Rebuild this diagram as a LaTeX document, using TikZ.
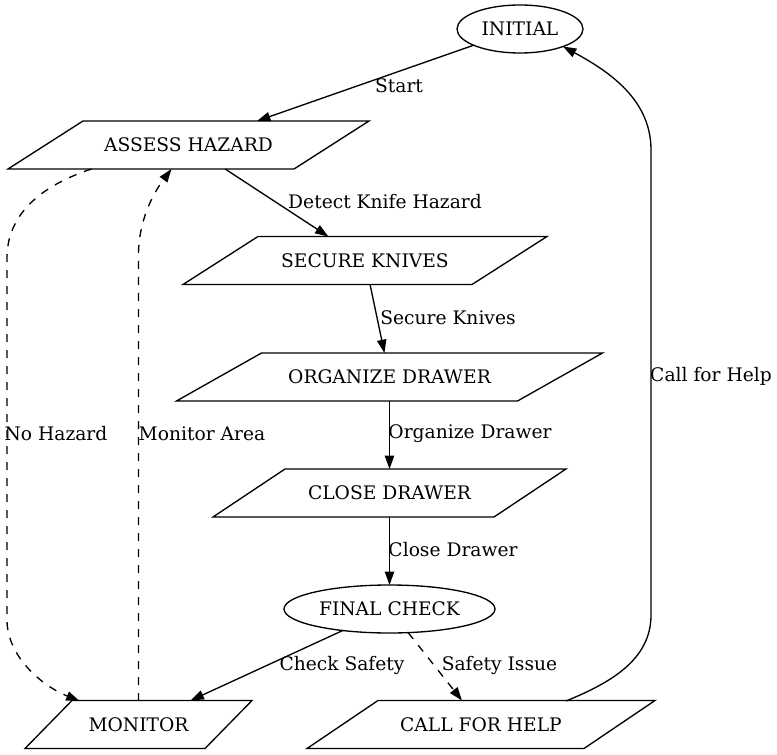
\documentclass[tikz,border=0pt]{standalone}
\usepackage{fontspec}
\setmainfont{DejaVu Serif}
\usetikzlibrary{shapes.geometric,arrows.meta,calc}
\newcommand\drawpara[2]{\draw[line width=1pt] (#1.south west) -- ($(#1.north west)+(#2,0)$)
  -- (#1.north east) -- ($(#1.south east)+(-#2,0)$) -- cycle;}
\begin{document}
\begin{tikzpicture}[x=0.75pt,y=-0.75pt,
  every node/.style={font=\fontsize{14pt}{16pt}\selectfont},
  para/.style={rectangle, minimum width=#1, minimum height=36pt,
    inner sep=0pt, outer sep=0pt},
  oval/.style={ellipse, draw, line width=1pt, minimum height=36pt,
    inner sep=0pt, outer sep=0pt},
  conn/.style={-{Triangle[length=10pt,width=7pt]}, line width=1pt},
  dconn/.style={conn, dash pattern=on 6pt off 6pt},
  lbl/.style={inner sep=0pt, anchor=center}]
\useasboundingbox (0,0) rectangle (777,755);
\fill[white] (0,0) rectangle (777,755);

\node[oval, minimum width=94.5pt] (INITIAL) at (520,29) {INITIAL};
\node[para=270.75pt] (AH) at (188.5,145) {ASSESS HAZARD};
\node[para=273pt] (SK) at (365,260.5) {SECURE KNIVES};
\node[para=319.5pt] (OD) at (389.5,377) {ORGANIZE DRAWER};
\node[para=264.75pt] (CD) at (389.5,493) {CLOSE DRAWER};
\node[oval, minimum width=158.25pt] (FC) at (389.5,609) {FINAL CHECK};
\node[para=170.25pt] (MON) at (138.5,724.5) {MONITOR};
\node[para=261pt] (CFH) at (481,724.5) {CALL FOR HELP};

\drawpara{AH}{75}
\drawpara{SK}{75}
\drawpara{OD}{85}
\drawpara{CD}{72}
\drawpara{MON}{47}
\drawpara{CFH}{71}

\draw[conn] (INITIAL) -- (AH);
\draw[conn] (AH) -- (SK);
\draw[conn] (SK) -- (OD);
\draw[conn] (OD) -- (CD);
\draw[conn] (CD) -- (FC);
\draw[conn] (FC) -- (MON);
\draw[dconn] (FC) -- (CFH);

\draw[dconn] ($(AH.center)+(-97,24)$) .. controls (40,186) and (7,215) .. (7,258)
  -- (7,620) .. controls (7,655) and (40,685) .. ($(MON.center)+(-59,-23.5)$);
\draw[dconn] ($(MON.center)+(0,-23.5)$) -- (138.5,255)
  .. controls (138.5,222) and (152,195) .. ($(AH.center)+(-17,24)$);
\draw[conn] ($(CFH.center)+(85,-23.5)$) .. controls (610,683) and (651,660) .. (651,615)
  -- (651,150) .. controls (651,100) and (610,72) .. ($(INITIAL.center)+(43,17.5)$);

\node[lbl] (l1) at (399,86) {Start};
\node[lbl] (l2) at (385,202) {Detect Knife Hazard};
\node[lbl] (l3) at (448,318) {Secure Knives};
\node[lbl] (l4) at (470,434) {Organize Drawer};
\node[lbl] (l5) at (453,550) {Close Drawer};
\node[lbl] (l6) at (342,665) {Check Safety};
\node[lbl] (l7) at (499.5,665) {Safety Issue};
\node[lbl] (l8) at (56,434) {No Hazard};
\node[lbl] (l9) at (202,434) {Monitor Area};
\node[lbl] (l10) at (711,376) {Call for Help};
\end{tikzpicture}
\end{document}
